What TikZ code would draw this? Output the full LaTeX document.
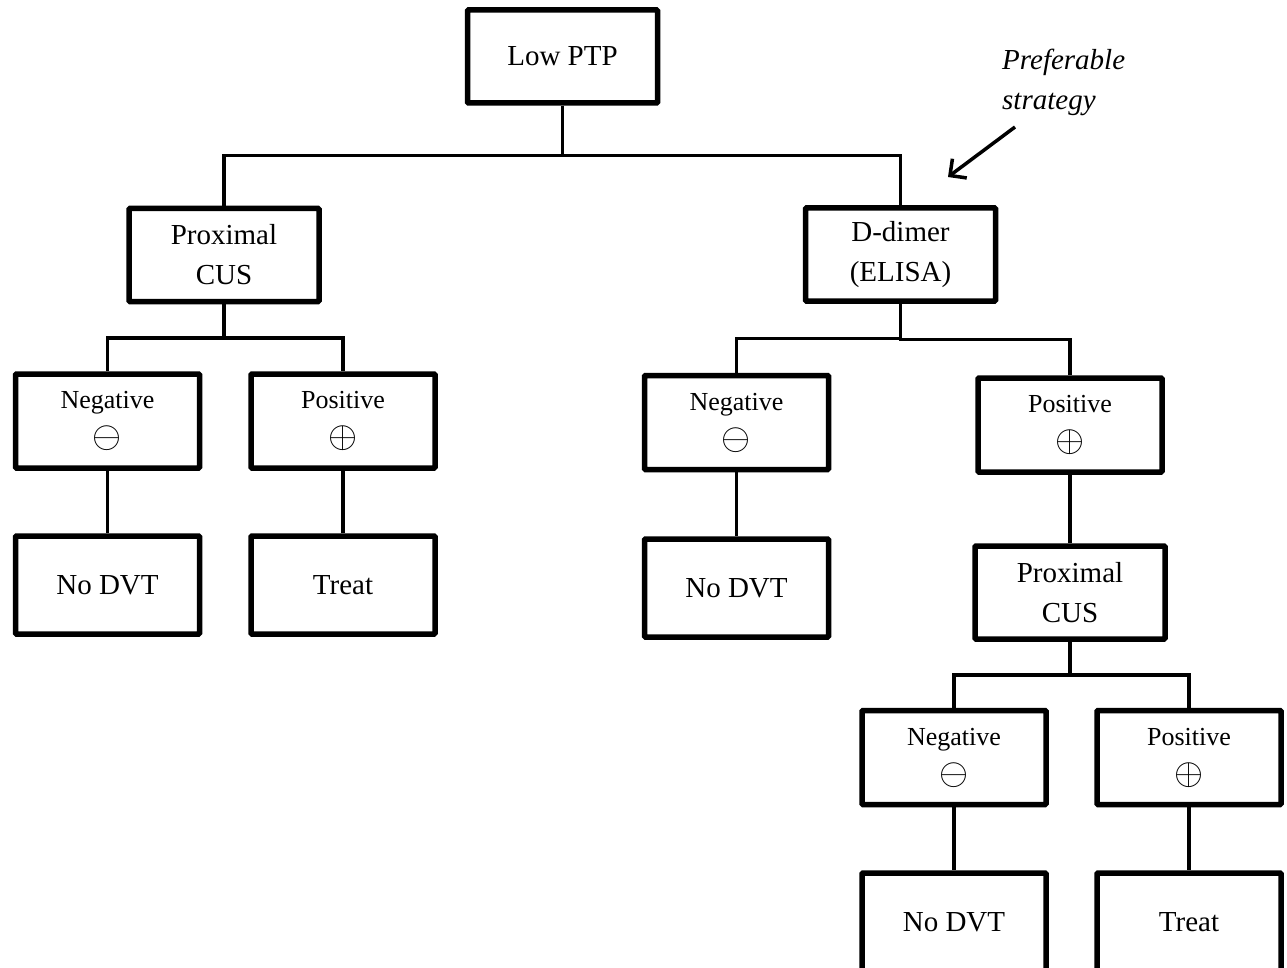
\documentclass[tikz,border=0pt]{standalone}
\usepackage{fontspec}
\setmainfont{Liberation Serif}
\usepackage{amsmath, amssymb, graphicx}
\usetikzlibrary{positioning, calc, arrows.meta}
\tikzset{
        treenode/.style={align=center, inner sep=0pt, rectangle, draw=black, line width=5.5pt, rounded corners=1pt},
        % Test nodes
        node_test/.style={treenode, minimum width=190pt, minimum height=93pt, font=\fontsize{29}{40}\selectfont},
        % Result nodes
        node_result/.style={treenode, minimum width=184pt, minimum height=94pt, font=\fontsize{26}{34}\selectfont},
        % Outcome nodes
        node_outcome/.style={treenode, minimum width=184pt, minimum height=98pt, font=\fontsize{29}{40}\selectfont},
        % Note text
        node_note/.style={align=left, inner sep=0pt, font=\fontsize{29}{40}\selectfont\itshape},
        % Fork connectors
        edge_fork/.style={line width=3.5pt, to path={|- ($(\tikztostart)!0.5!(\tikztotarget)$) -| (\tikztotarget)}}
}
\newcommand{\negsign}{\scalebox{1.5}{$\ominus$}}
\newcommand{\possign}{\scalebox{1.5}{$\oplus$}}
\begin{document}
\begin{tikzpicture}[x=1pt, y=-1pt]
    \useasboundingbox (0,0) rectangle (1287,968);
    \clip (0,0) rectangle (1287,968);
    % top
    \node[node_test] (lowptp) at (562.5,56.5) {Low PTP};
    % left branch
    \node[node_test] (proxL) at (224,255) {Proximal\\CUS};
    \node[node_result] (negL) at (107.5,421) {Negative\\[5pt]\negsign};
    \node[node_result] (posL) at (343,421) {Positive\\[5pt]\possign};
    \node[node_outcome] (nodvtL) at (107.5,585) {No DVT};
    \node[node_outcome] (treatL) at (343,585) {Treat};
    % right branch
    \node[node_test] (ddimer) at (900.5,254.5) {D-dimer\\(ELISA)};
    \node[node_result] (negM) at (736.5,422.5) {Negative\\[5pt]\negsign};
    \node[node_result] (posR) at (1070,425) {Positive\\[5pt]\possign};
    \node[node_outcome] (nodvtM) at (736.5,588) {No DVT};
    \node[node_test] (proxR) at (1070,592.5) {Proximal\\CUS};
    \node[node_result] (negB) at (954,757.5) {Negative\\[5pt]\negsign};
    \node[node_result] (posB) at (1189,757.5) {Positive\\[5pt]\possign};
    \node[node_outcome] (nodvtB) at (954,922) {No DVT};
    \node[node_outcome] (treatB) at (1189,922) {Treat};
    % note
    \node[node_note, anchor=base west] (note) at (1002,110) {Preferable\\strategy};
    \coordinate (noteTail) at (1015,127);
    \coordinate (noteHead) at (948,177);

    \draw[edge_fork] (lowptp.south) to (proxL.north);
    \draw[edge_fork] (lowptp.south) to (ddimer.north);
    \draw[edge_fork] (proxL.south) to (negL.north);
    \draw[edge_fork] (proxL.south) to (posL.north);
    \draw[edge_fork] (negL.south) to (nodvtL.north);
    \draw[edge_fork] (posL.south) to (treatL.north);
    \draw[edge_fork] (ddimer.south) to (negM.north);
    \draw[edge_fork] (ddimer.south) to (posR.north);
    \draw[edge_fork] (negM.south) to (nodvtM.north);
    \draw[edge_fork] (posR.south) to (proxR.north);
    \draw[edge_fork] (proxR.south) to (negB.north);
    \draw[edge_fork] (proxR.south) to (posB.north);
    \draw[edge_fork] (negB.south) to (nodvtB.north);
    \draw[edge_fork] (posB.south) to (treatB.north);
    \draw[line width=3.5pt, -{Straight Barb[length=12pt, width=24pt]}] (noteTail) -- (noteHead);
\end{tikzpicture}
\end{document}
